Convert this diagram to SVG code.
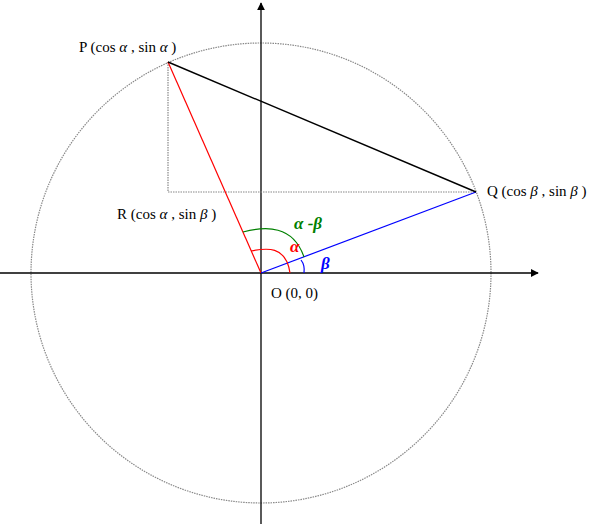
<svg xmlns="http://www.w3.org/2000/svg" width="600" height="524" viewBox="0 0 600 524">
<style>
.lbl{font-family:"Liberation Serif","Times New Roman",serif;font-size:15px;fill:#000}
.gk{font-style:italic}
.ax{stroke:#000;stroke-width:1.3;fill:none}
.dot{stroke:#888;stroke-width:1.2;stroke-dasharray:1.5 1;fill:none}
.ang{font-family:"Liberation Serif","Times New Roman",serif;font-size:17px;font-weight:bold;font-style:italic}
</style>
<defs>
<marker id="ah" viewBox="0 0 10 10" refX="9" refY="5" markerWidth="8" markerHeight="8" markerUnits="userSpaceOnUse" orient="auto">
<path d="M0,0 L10,5 L0,10 z" fill="#000"/>
</marker>
</defs>
<rect width="600" height="524" fill="#fff"/>
<g id="circle"><circle cx="261" cy="273" r="230" class="dot"/></g>
<g id="connectors">
<line x1="0" y1="273" x2="538" y2="273" class="ax" marker-end="url(#ah)"/>
<line x1="261" y1="524" x2="261" y2="3" class="ax" marker-end="url(#ah)"/>
<polyline points="168,62 168,192 476,192" class="dot"/>
<line x1="261" y1="273" x2="168" y2="62" stroke="#f00" stroke-width="1.2"/>
<line x1="261" y1="273" x2="476" y2="192" stroke="#00f" stroke-width="1.2"/>
<line x1="168" y1="62" x2="476" y2="192" stroke="#000" stroke-width="1.4"/>
<path d="M251,251 C266,248 286,245 290,273" stroke="#f00" stroke-width="1.2" fill="none"/>
<path d="M243,232 C266,226 293,225 304,257" stroke="#008000" stroke-width="1.2" fill="none"/>
<path d="M301,260 Q305,265 304,273" stroke="#00f" stroke-width="1.2" fill="none"/>
</g>
<g id="P"><text x="79" y="52" class="lbl">P (cos <tspan class="gk">α</tspan> , sin <tspan class="gk">α</tspan> )</text></g>
<g id="R"><text x="117" y="219" class="lbl">R (cos <tspan class="gk">α</tspan> , sin <tspan class="gk">β</tspan> )</text></g>
<g id="Q"><text x="487" y="196" class="lbl">Q (cos <tspan class="gk">β</tspan> , sin <tspan class="gk">β</tspan> )</text></g>
<g id="O"><text x="271" y="298" class="lbl">O (0, 0)</text></g>
<g id="angles">
<text x="294" y="229" class="ang" fill="#008000">α -β</text>
<text x="290" y="252" class="ang" fill="#f00">α</text>
<text x="321" y="269" class="ang" fill="#00f">β</text>
</g>
</svg>
